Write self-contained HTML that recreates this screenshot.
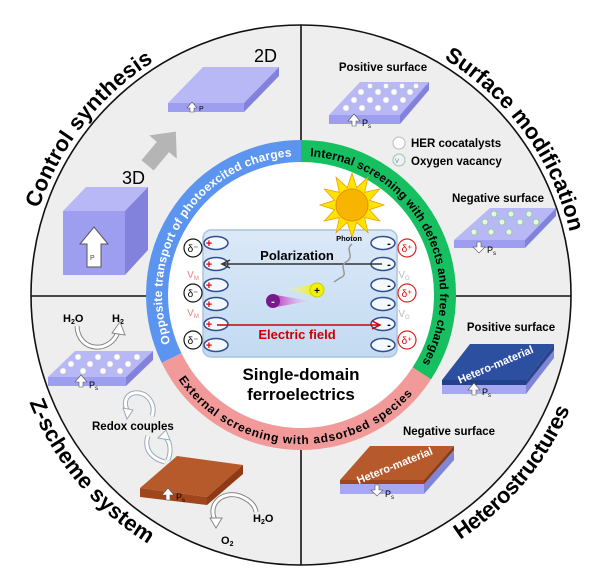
<!DOCTYPE html>
<html><head><meta charset="utf-8"><style>
html,body{margin:0;padding:0;background:#fff;}
svg{display:block;font-family:"Liberation Sans",Arial,sans-serif;}
</style></head><body>
<svg width="600" height="584" viewBox="0 0 600 584" xmlns="http://www.w3.org/2000/svg">
<defs>
<path id="pCS" d="M35.7,218.9 A276,276 0 0 1 163,56"/>
<path id="pSM" d="M422,46.9 A276,276 0 0 1 574.3,256.6"/>
<path id="pZS" d="M18.9,370.6 A292,292 0 0 0 177.6,559.6"/>
<path id="pHS" d="M424.4,559.6 A292,292 0 0 0 583.1,370.6"/>
<path id="pBlue" d="M172.1,347.1 A139,139 0 0 1 296.1,156.1"/>
<path id="pGreen" d="M308.3,156.2 A139,139 0 0 1 421.4,364.5"/>
<path id="pPink" d="M172,369.5 A149,149 0 0 0 420,384.7"/>
<linearGradient id="rectg" x1="0" y1="0" x2="0" y2="1"><stop offset="0" stop-color="#dbe9f8"/><stop offset="1" stop-color="#c3daf2"/></linearGradient>
<linearGradient id="tailY" x1="0" x2="1"><stop offset="0" stop-color="#ffff80" stop-opacity="0"/><stop offset="1" stop-color="#f0f000"/></linearGradient>
<linearGradient id="tailP" x1="0" x2="1"><stop offset="0" stop-color="#c040c0"/><stop offset="1" stop-color="#f0a0f0" stop-opacity="0"/></linearGradient>
</defs>

<circle cx="301" cy="295" r="270" fill="#eeeeee" stroke="#111" stroke-width="1.6"/>
<line x1="301" y1="25" x2="301" y2="140" stroke="#111" stroke-width="1.6"/>
<line x1="301" y1="450" x2="301" y2="565" stroke="#111" stroke-width="1.6"/>
<line x1="31" y1="296" x2="146" y2="296" stroke="#111" stroke-width="1.6"/>
<line x1="456" y1="296" x2="571" y2="296" stroke="#111" stroke-width="1.6"/>

<g font-weight="bold" font-size="22" fill="#000">
<text><textPath href="#pCS" startOffset="50%" text-anchor="middle" textLength="190">Control synthesis</textPath></text>
<text><textPath href="#pSM" startOffset="50%" text-anchor="middle" textLength="220">Surface modification</textPath></text>
<text><textPath href="#pZS" startOffset="50%" text-anchor="middle" textLength="188">Z-scheme system</textPath></text>
<text><textPath href="#pHS" startOffset="50%" text-anchor="middle" textLength="173">Heterostructures</textPath></text>
</g>

<circle cx="301" cy="295" r="133" fill="#fff"/>
<path d="M171.6,358.1 A144,144 0 0 1 301,151" fill="none" stroke="#5b95f0" stroke-width="22"/>
<path d="M301,151 A144,144 0 0 1 421.8,373.4" fill="none" stroke="#16c060" stroke-width="22"/>
<path d="M421.8,373.4 A144,144 0 0 1 171.6,358.1" fill="none" stroke="#f29a9a" stroke-width="22"/>
<g font-weight="bold" font-size="12">
<text fill="#fff"><textPath href="#pBlue" startOffset="50%" text-anchor="middle" textLength="258">Opposite transport of photoexcited charges</textPath></text>
<text fill="#000"><textPath href="#pGreen" startOffset="50%" text-anchor="middle" textLength="280">Internal screening with defects and free charges</textPath></text>
<text fill="#000"><textPath href="#pPink" startOffset="50%" text-anchor="middle" textLength="270">External screening with adsorbed species</textPath></text>
</g>

<!-- 3D cube -->
<polygon points="63,211 86,187 148,187 125,211" fill="#b8b8f6"/>
<rect x="63" y="211" width="62" height="64" fill="#9e9ef0"/>
<polygon points="125,211 148,187 148,250 125,275" fill="#8282dc"/>
<polygon points="87,267 87,244 80,244 94,227 108,244 101,244 101,267" fill="#fff" stroke="#555" stroke-width="1"/>
<text x="90" y="260" font-size="7" fill="#444">P</text>
<text x="122" y="184" font-size="18" fill="#000">3D</text>
<g transform="translate(163,147) rotate(-50)"><polygon points="-24,-8 0,-8 0,-18 20,0 0,18 0,8 -24,8" fill="#b5b5b5"/></g>
<!-- 2D slab -->
<polygon points="168,103 203,67 279,67 244,103" fill="#b8b8f6"/>
<rect x="168" y="103" width="76" height="9" fill="#9e9ef0"/>
<polygon points="244,103 279,67 279,76 244,112" fill="#8282dc"/>
<polygon points="190,112 190,108 187,108 192,102 197,108 194,108 194,112" fill="#fff" stroke="#555" stroke-width=".6"/>
<text x="199" y="111" font-size="7">P</text>
<text x="254" y="62" font-size="18">2D</text>

<!-- Positive surface top-right -->
<text x="383" y="71" font-size="11.5" font-weight="bold" text-anchor="middle">Positive surface</text>
<polygon points="329,115 360,82 429,82 400,115" fill="#b8b8f6"/>
<rect x="329" y="115" width="71" height="9" fill="#9e9ef0"/>
<polygon points="400,115 429,82 429,90 400,124" fill="#8282dc"/>
<g fill="#fff" stroke="#ccc" stroke-width=".5">
<circle cx="346" cy="108" r="3"/><circle cx="362" cy="108" r="3"/><circle cx="378" cy="108" r="3"/><circle cx="395" cy="108" r="3"/>
<circle cx="354" cy="100" r="3"/><circle cx="370" cy="100" r="3"/><circle cx="386" cy="100" r="3"/><circle cx="403" cy="100" r="3"/>
<circle cx="361" cy="92" r="3"/><circle cx="378" cy="92" r="3"/><circle cx="394" cy="92" r="3"/><circle cx="410" cy="92" r="3"/>
<circle cx="370" cy="86" r="2.5"/><circle cx="386" cy="86" r="2.5"/><circle cx="402" cy="86" r="2.5"/><circle cx="416" cy="86" r="2.5"/>
</g>
<polygon points="352,126 352,121 348,121 354,114 360,121 356,121 356,126" fill="#fff" stroke="#555" stroke-width=".6"/>
<text x="362" y="126" font-size="9">P<tspan font-size="6" dy="2">s</tspan></text>
<circle cx="399" cy="143" r="6" fill="#fff" stroke="#bbb"/>
<text x="411" y="147" font-size="11.5" font-weight="bold">HER cocatalysts</text>
<circle cx="399" cy="160" r="6" fill="#eef" stroke="#9c9"/>
<text x="395" y="163" font-size="6" fill="#696">V</text>
<text x="411" y="165" font-size="11.5" font-weight="bold">Oxygen vacancy</text>

<text x="498" y="202" font-size="11.5" font-weight="bold" text-anchor="middle">Negative  surface</text>
<polygon points="454,240 490,208 556,208 525,240" fill="#b8b8f6"/>
<rect x="454" y="240" width="71" height="8" fill="#9e9ef0"/>
<polygon points="525,240 556,208 556,216 525,248" fill="#8282dc"/>
<g fill="#e6f5e6" stroke="#8c8" stroke-width=".8">
<circle cx="474" cy="232" r="3"/><circle cx="491" cy="232" r="3"/><circle cx="509" cy="232" r="3"/>
<circle cx="485" cy="222" r="3"/><circle cx="502" cy="222" r="3"/><circle cx="520" cy="222" r="3"/><circle cx="536" cy="222" r="3"/>
<circle cx="494" cy="214" r="3"/><circle cx="511" cy="214" r="3"/><circle cx="529" cy="214" r="3"/>
</g>
<polygon points="477,242 477,247 473,247 479,253 485,247 481,247 481,242" fill="#fff" stroke="#555" stroke-width=".6"/>
<text x="487" y="253" font-size="9">P<tspan font-size="6" dy="2">s</tspan></text>

<!-- bottom-left -->
<text x="63" y="322" font-size="11" font-weight="bold">H<tspan font-size="7" dy="2">2</tspan><tspan dy="-2">O</tspan></text>
<text x="112" y="322" font-size="11" font-weight="bold">H<tspan font-size="7" dy="2">2</tspan></text>
<g fill="none">
<path d="M77,326 C78,352 110,354 118,332" stroke="#888" stroke-width="5"/>
<path d="M77,326 C78,352 110,354 118,332" stroke="#fff" stroke-width="3"/>
</g>
<polygon points="112,333 120,322 125,335" fill="#fff" stroke="#888"/>
<polygon points="48,377 75,351 153,351 126,377" fill="#b8b8f6"/>
<rect x="48" y="377" width="78" height="9" fill="#9e9ef0"/>
<polygon points="126,377 153,351 153,360 126,386" fill="#8282dc"/>
<g fill="#fff" stroke="#ccc" stroke-width=".5">
<circle cx="63" cy="371" r="3"/><circle cx="83" cy="371" r="3"/><circle cx="103" cy="371" r="3"/><circle cx="120" cy="371" r="3"/>
<circle cx="71" cy="364" r="3"/><circle cx="90" cy="364" r="3"/><circle cx="110" cy="364" r="3"/><circle cx="128" cy="364" r="3"/>
<circle cx="78" cy="357" r="3"/><circle cx="98" cy="357" r="3"/><circle cx="117" cy="357" r="3"/><circle cx="137" cy="357" r="3"/>
</g>
<polygon points="79,387 79,382 75,382 81,375 87,382 83,382 83,387" fill="#fff" stroke="#555" stroke-width=".6"/>
<text x="89" y="388" font-size="9">P<tspan font-size="6" dy="2">s</tspan></text>
<g fill="none">
<path d="M128,412 C120,398 132,388 145,395 C152,400 155,408 152,416" stroke="#9ab" stroke-width="5"/>
<path d="M128,412 C120,398 132,388 145,395 C152,400 155,408 152,416" stroke="#fff" stroke-width="3"/>
<path d="M148,436 C144,448 150,458 165,462" stroke="#9ab" stroke-width="5"/>
<path d="M148,436 C144,448 150,458 165,462" stroke="#fff" stroke-width="3"/>
<path d="M168,460 C172,450 170,440 164,436" stroke="#9ab" stroke-width="5"/>
<path d="M168,460 C172,450 170,440 164,436" stroke="#fff" stroke-width="3"/>
</g>
<polygon points="123,408 133,410 127,419" fill="#fff" stroke="#9ab"/>
<polygon points="158,438 166,430 170,440" fill="#fff" stroke="#9ab"/>
<text x="92" y="430" font-size="11.5" font-weight="bold">Redox couples</text>
<polygon points="140,488 177,456 243,465 207,497" fill="#b65a2c"/>
<polygon points="140,488 207,497 207,505 140,497" fill="#a0461c"/>
<polygon points="207,497 243,465 243,474 207,505" fill="#8e3a14"/>
<polygon points="166,500 166,495 162,495 168,488 174,495 170,495 170,500" fill="#fff" stroke="#555" stroke-width=".6"/>
<text x="176" y="500" font-size="9">P<tspan font-size="6" dy="2">s</tspan></text>
<g fill="none">
<path d="M216,522 C206,505 222,490 240,496 C250,500 255,505 256,512" stroke="#888" stroke-width="5"/>
<path d="M216,522 C206,505 222,490 240,496 C250,500 255,505 256,512" stroke="#fff" stroke-width="3"/>
</g>
<polygon points="210,518 222,518 216,528" fill="#fff" stroke="#888"/>
<text x="253" y="522" font-size="11" font-weight="bold">H<tspan font-size="7" dy="2">2</tspan><tspan dy="-2">O</tspan></text>
<text x="221" y="544" font-size="11" font-weight="bold">O<tspan font-size="7" dy="2">2</tspan></text>

<!-- bottom-right -->
<text x="511" y="331" font-size="11.5" font-weight="bold" text-anchor="middle">Positive surface</text>
<polygon points="442,380 470,344 554,344 526,380" fill="#2c4fa0"/>
<rect x="442" y="380" width="84" height="5" fill="#22418a"/>
<rect x="442" y="385" width="84" height="9" fill="#a8a8f2"/>
<polygon points="526,380 554,344 554,358 526,394" fill="#7f86d6"/>
<polygon points="526,380 554,344 554,350 526,385" fill="#2a4590"/>
<text transform="translate(497,368) rotate(-23)" font-size="11" font-weight="bold" fill="#fff" text-anchor="middle">Hetero-material</text>
<polygon points="472,395 472,390 468,390 474,383 480,390 476,390 476,395" fill="#fff" stroke="#555" stroke-width=".6"/>
<text x="482" y="395" font-size="9">P<tspan font-size="6" dy="2">s</tspan></text>
<text x="449" y="435" font-size="11.5" font-weight="bold" text-anchor="middle">Negative surface</text>
<polygon points="340,480 370,446 454,446 424,480" fill="#b65a2c"/>
<rect x="340" y="480" width="84" height="4" fill="#a0461c"/>
<rect x="340" y="484" width="84" height="10" fill="#a8a8f2"/>
<polygon points="424,480 454,446 454,460 424,494" fill="#7f86d6"/>
<polygon points="424,480 454,446 454,450 424,484" fill="#8e3a14"/>
<text transform="translate(396,469) rotate(-22)" font-size="11" font-weight="bold" fill="#fff" text-anchor="middle">Hetero-material</text>
<polygon points="375,485 375,490 371,490 377,496 383,490 379,490 379,485" fill="#fff" stroke="#555" stroke-width=".6"/>
<text x="385" y="497" font-size="9">P<tspan font-size="6" dy="2">s</tspan></text>

<!-- central rectangle -->
<rect x="203" y="230" width="194" height="127" rx="8" fill="url(#rectg)" stroke="#a9c4e0" stroke-width="1.5"/>
<g fill="#f4f8ff" stroke="#2f4f8f" stroke-width="1.5">
<ellipse cx="216" cy="243" rx="12" ry="6.5"/><ellipse cx="216" cy="264" rx="12" ry="6.5"/><ellipse cx="216" cy="285" rx="12" ry="6.5"/>
<ellipse cx="216" cy="304" rx="12" ry="6.5"/><ellipse cx="216" cy="324" rx="12" ry="6.5"/><ellipse cx="216" cy="345" rx="12" ry="6.5"/>
<ellipse cx="383" cy="243" rx="12" ry="6.5"/><ellipse cx="383" cy="264" rx="12" ry="6.5"/><ellipse cx="383" cy="285" rx="12" ry="6.5"/>
<ellipse cx="383" cy="304" rx="12" ry="6.5"/><ellipse cx="383" cy="324" rx="12" ry="6.5"/><ellipse cx="383" cy="345" rx="12" ry="6.5"/>
</g>
<g fill="#e00" font-size="11" font-weight="bold" text-anchor="middle">
<text x="209" y="247">+</text><text x="209" y="268">+</text><text x="209" y="289">+</text>
<text x="209" y="308">+</text><text x="209" y="328">+</text><text x="209" y="349">+</text>
</g>
<g fill="#000" font-size="11" font-weight="bold" text-anchor="middle">
<text x="389" y="247">-</text><text x="389" y="268">-</text><text x="389" y="289">-</text>
<text x="389" y="308">-</text><text x="389" y="328">-</text><text x="389" y="349">-</text>
</g>
<g fill="#fff" stroke="#111" stroke-width="1.2">
<circle cx="193" cy="248" r="9"/><circle cx="193" cy="293" r="9"/><circle cx="193" cy="340" r="9"/>
</g>
<g font-size="10" text-anchor="middle"><text x="193" y="252">δ⁻</text><text x="193" y="297">δ⁻</text><text x="193" y="344">δ⁻</text></g>
<g fill="#fff" stroke="#d22" stroke-width="1.2">
<circle cx="407" cy="248" r="9"/><circle cx="407" cy="293" r="9"/><circle cx="407" cy="340" r="9"/>
</g>
<g font-size="10" fill="#d00" text-anchor="middle"><text x="407" y="252">δ⁺</text><text x="407" y="297">δ⁺</text><text x="407" y="344">δ⁺</text></g>
<g font-size="10" fill="#f08080" text-anchor="middle"><text x="193" y="278">V<tspan font-size="6" dy="2">M</tspan></text><text x="193" y="316">V<tspan font-size="6" dy="2">M</tspan></text></g>
<g font-size="10" fill="#bbb" text-anchor="middle"><text x="404" y="278">V<tspan font-size="6" dy="2">O</tspan></text><text x="404" y="317">V<tspan font-size="6" dy="2">O</tspan></text></g>

<text x="297" y="260" font-size="13" font-weight="bold" text-anchor="middle">Polarization</text>
<line x1="382" y1="264" x2="224" y2="264" stroke="#333" stroke-width="1.5"/>
<polyline points="230,260 222,264 230,268" fill="none" stroke="#333" stroke-width="1.5"/>
<text x="297" y="339" font-size="13" font-weight="bold" fill="#c00" text-anchor="middle">Electric field</text>
<line x1="217" y1="325" x2="378" y2="325" stroke="#c00" stroke-width="1.5"/>
<polyline points="372,321 380,325 372,329" fill="none" stroke="#c00" stroke-width="1.5"/>
<text x="349" y="241" font-size="7.5" font-weight="bold" text-anchor="middle">Photon</text>
<path d="M352,244 C344,250 356,256 346,262 C338,268 350,274 340,278 L334,282" fill="none" stroke="#999" stroke-width="1.5"/>

<polygon points="285,289 314,284 314,296" fill="url(#tailY)"/>
<circle cx="317" cy="290" r="7" fill="#f2f200" stroke="#cc0"/>
<text x="317" y="294" font-size="10" font-weight="bold" text-anchor="middle">+</text>
<polygon points="276,295 310,301 276,307" fill="url(#tailP)"/>
<circle cx="273" cy="301" r="7" fill="#7a1a8a"/>
<text x="273" y="305" font-size="11" font-weight="bold" fill="#fff" text-anchor="middle">-</text>

<polygon points="384,205 369.4,209.7 379.7,221 364.7,217.7 368,232.7 356.7,222.4 352,237 347.3,222.4 336,232.7 339.3,217.7 324.3,221 334.6,209.7 320,205 334.6,200.3 324.3,189 339.3,192.3 336,177.3 347.3,187.6 352,173 356.7,187.6 368,177.3 364.7,192.3 379.7,189 369.4,200.3" fill="#ffe400" stroke="#f0a000" stroke-width=".8"/>
<circle cx="352" cy="205" r="16" fill="#f7b400" stroke="#e89000"/>

<text x="301" y="380" font-size="17" font-weight="bold" text-anchor="middle">Single-domain</text>
<text x="301" y="400" font-size="17" font-weight="bold" text-anchor="middle">ferroelectrics</text>
</svg>
</body></html>
